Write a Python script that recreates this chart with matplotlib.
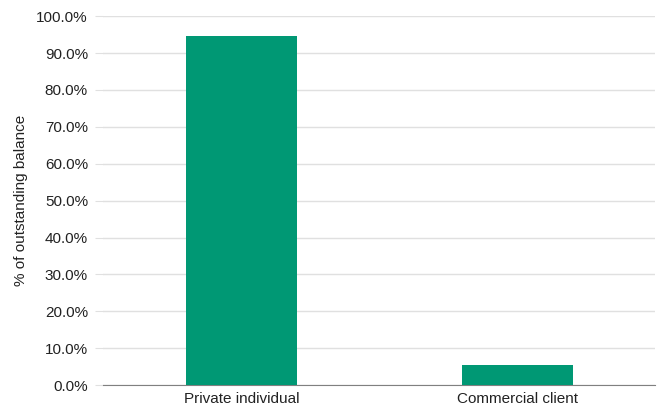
import numpy as np
import matplotlib.pyplot as plt
from matplotlib.ticker import PercentFormatter

plt.rcParams['font.family'] = ['Liberation Sans', 'DejaVu Sans']

# data
categories = ['Private individual', 'Commercial client']
shares = [94.6, 5.4]
yticks = np.arange(0, 101, 10)

fig = plt.figure(figsize=(6.62, 4.15), dpi=100)
ax = fig.add_axes([0.156, 0.072, 0.834, 0.889])

x = np.arange(len(categories))
ax.bar(x, shares, width=0.4, color='#009874', zorder=3)

ax.set_xlim(-0.5, len(categories) - 0.5)
ax.set_ylim(0, 100)
ax.set_yticks(yticks)
ax.yaxis.set_major_formatter(PercentFormatter(decimals=1))
ax.set_xticks(x)
ax.set_xticklabels(categories)

ax.grid(axis='y', color='#e0e0e0', linewidth=1, zorder=0)
for s in ['top', 'right', 'left']:
    ax.spines[s].set_visible(False)
ax.spines['bottom'].set_color('#808080')
ax.tick_params(axis='y', length=6, color='#e0e0e0', labelsize=11, pad=5)
ax.tick_params(axis='y', labelcolor='#222222')
ax.tick_params(axis='x', length=0, labelsize=11, labelcolor='#222222', pad=5)
ax.set_ylabel('% of outstanding balance', fontsize=11, color='#222222', labelpad=6)

fig.savefig('out.png', dpi=100)
